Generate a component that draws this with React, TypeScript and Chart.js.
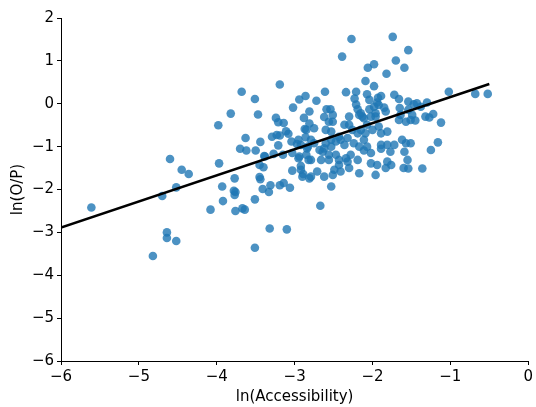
import React, { useEffect, useRef } from "react";
import { Chart, registerables } from "chart.js";

Chart.register(...registerables);

// ln(Accessibility) values of each observation
const accessX: number[] = [
  -5.61, -4.82, -4.70, -4.64, -4.64, -4.52, -4.60, -4.52, -4.45, -4.36,
  -3.98, -3.97, -3.93, -3.92, -4.08, -3.77, -3.78, -3.76, -3.77, -3.76,
  -3.67, -3.64, -3.51, -3.51, -3.32, -3.10, -3.45, -3.44, -3.41, -3.31,
  -3.33, -3.19, -3.14, -3.06, -3.03, -2.95, -2.92, -2.92, -2.89, -2.90,
  -3.45, -3.40, -3.39, -3.27, -2.82, -2.67, -3.19, -3.68, -3.51, -3.82,
  -3.47, -3.02, -2.94, -2.86, -3.24, -3.21, -3.14, -3.11, -3.08, -3.29,
  -3.23, -3.19, -3.63, -3.44, -3.70, -3.62, -3.50, -3.38, -3.21, -3.04,
  -2.95, -2.97, -2.87, -2.88, -2.81, -2.86, -2.84, -2.94, -3.03, -3.15,
  -2.27, -1.74, -2.39, -2.06, -1.98, -1.70, -1.59, -1.54, -1.82, -2.09,
  -1.98, -2.61, -2.34, -2.21, -2.72, -2.07, -2.04, -1.93, -1.89, -1.94,
  -2.23, -2.21, -1.72, -1.66, -1.54, -2.59, -2.54, -2.19, -2.15, -2.04,
  -1.98, -1.96, -1.85, -1.83, -1.65, -2.62, -2.30, -2.13, -2.02, -1.92,
  -2.51, -2.81, -2.75, -2.85, -2.56, -2.51, -2.60, -2.53, -2.36, -2.30,
  -2.26, -2.17, -2.11, -1.96, -2.15, -2.09, -2.00, -1.92, -1.89, -1.81,
  -1.66, -1.64, -1.57, -1.62, -1.57, -2.92, -2.83, -2.75, -2.68, -2.62,
  -2.53, -2.47, -2.41, -2.36, -2.79, -2.66, -2.56, -2.43, -2.32, -2.19,
  -2.24, -2.17, -2.07, -2.02, -1.89, -1.81, -1.77, -1.72, -2.02, -1.94,
  -1.83, -1.81, -2.71, -2.62, -2.51, -2.41, -2.30, -2.17, -2.81, -1.96,
  -2.53, -1.55, -1.60, -1.02, -0.68, -0.52, -1.47, -1.43, -1.30, -1.54,
  -1.49, -1.38, -1.32, -1.27, -1.22, -1.12, -1.51, -1.45, -1.51, -1.59,
  -1.16, -1.25, -1.54, -1.36, -2.19, -2.32, -2.11, -2.11, -2.79, -2.60,
  -2.53, -2.43, -2.85, -2.64, -2.56, -2.47, -2.34, -2.28, -2.79, -2.49,
  -2.43, -1.76, -2.07, -1.89,
];

// ln(O/P) values of each observation
const opY: number[] = [
  -2.42, -3.55, -2.15, -3.00, -3.13, -3.20, -1.29, -1.95, -1.54, -1.64,
  -0.50, -1.39, -1.93, -2.27, -2.47, -1.74, -2.03, -2.06, -2.13, -2.50,
  -2.44, -2.47, -2.23, -3.36, -2.91, -2.93, -1.71, -1.76, -1.99, -1.90,
  -2.06, -1.90, -1.85, -1.96, -1.56, -1.27, -1.45, -1.54, -1.64, -1.70,
  -1.43, -1.48, -1.22, -1.17, -1.31, -2.38, 0.45, 0.28, 0.11, -0.23,
  -0.25, -0.09, 0.10, 0.18, -0.33, -0.43, -0.45, -0.64, -0.70, -0.77,
  -0.73, -0.74, -0.80, -0.89, -1.05, -1.09, -1.09, -1.23, -0.97, -0.88,
  -0.84, -0.94, -0.59, -0.33, -0.18, -0.78, -1.04, -1.23, -1.15, -1.19,
  1.51, 1.56, 1.10, 0.84, 0.92, 1.01, 0.84, 1.25, 0.70, 0.53,
  0.41, 0.28, 0.27, 0.28, 0.07, 0.22, 0.09, 0.14, 0.18, 0.03,
  0.12, -0.02, 0.21, 0.11, 0.05, -0.13, -0.13, -0.13, -0.22, -0.13,
  -0.07, -0.22, -0.09, -0.18, -0.10, -0.31, -0.30, -0.30, -0.30, -0.03,
  -0.26, -0.46, -0.57, -0.61, -0.42, -0.42, -0.61, -0.65, -0.49, -0.49,
  -0.61, -0.26, -0.34, -0.30, -0.61, -0.69, -0.61, -0.53, -0.69, -0.65,
  -0.38, -0.26, -0.42, -0.84, -0.92, -0.96, -1.00, -0.92, -1.08, -1.04,
  -1.00, -0.88, -0.84, -0.96, -1.31, -1.31, -1.31, -1.31, -1.35, -1.31,
  -0.92, -1.00, -1.00, -1.15, -0.96, -0.96, -1.12, -0.96, -1.39, -1.43,
  -1.50, -1.35, -1.58, -1.70, -1.66, -1.58, -1.50, -1.62, -1.74, -1.66,
  -1.93, -1.31, -1.50, 0.28, 0.23, 0.23, -0.01, 0.01, 0.03, -0.14,
  -0.26, -0.07, -0.30, -0.32, -0.24, -0.44, -0.38, -0.39, -0.92, -1.12,
  -0.90, -1.08, -1.51, -1.51, -0.69, -0.80, -0.84, -1.09, -0.84, -0.92,
  -0.84, -0.77, -1.19, -1.12, -1.19, -1.19, -1.27, -1.19, -1.70, -1.54,
  -1.43, -1.43, -0.49, -1.05,
];

// Fitted regression line end points
const fitX: number[] = [-6, -0.5];
const fitY: number[] = [-2.89, 0.46];

// Axis ranges / ticks
const xTicks: number[] = [-6, -5, -4, -3, -2, -1, 0];
const yTicks: number[] = [-6, -5, -4, -3, -2, -1, 0, 1, 2];

const fmt = (v: number) => (v < 0 ? "\u2212" + Math.abs(v) : String(v));

export default function App() {
  const ref = useRef<HTMLCanvasElement | null>(null);

  useEffect(() => {
    if (!ref.current) return;
    const points = accessX.map((x, i) => ({ x, y: opY[i] }));
    const fit = fitX.map((x, i) => ({ x, y: fitY[i] }));
    const font = { family: "'DejaVu Sans', sans-serif", size: 15 };

    const chart = new Chart(ref.current, {
      type: "scatter",
      data: {
        datasets: [
          {
            type: "line",
            data: fit,
            borderColor: "#000000",
            borderWidth: 2.5,
            pointRadius: 0,
            showLine: true,
            fill: false,
            order: 0,
          } as any,
          {
            type: "scatter",
            data: points,
            backgroundColor: "rgba(31,119,180,0.8)",
            borderColor: "rgba(31,119,180,0.8)",
            borderWidth: 0,
            pointRadius: 4.3,
            pointHoverRadius: 4.3,
            order: 1,
          },
        ],
      },
      options: {
        responsive: false,
        animation: false,
        events: [],
        layout: { padding: { left: 0, right: 6, top: 18, bottom: 0 } },
        plugins: { legend: { display: false }, tooltip: { enabled: false } },
        scales: {
          x: {
            type: "linear",
            min: -6,
            max: 0,
            afterBuildTicks: (s: any) => {
              s.ticks = xTicks.map((v) => ({ value: v }));
            },
            afterFit: (s: any) => {
              s.height = 46;
            },
            ticks: {
              font,
              color: "#000000",
              padding: 3,
              maxRotation: 0,
              callback: (v: any) => fmt(Number(v)),
            },
            grid: {
              display: true,
              drawOnChartArea: false,
              drawTicks: true,
              tickLength: 4,
              tickColor: "#000000",
            },
            border: { display: true, color: "#000000", width: 1 },
            title: {
              display: true,
              text: "ln(Accessibility)",
              font,
              color: "#000000",
              padding: { top: 0, bottom: 1 },
            },
          },
          y: {
            type: "linear",
            min: -6,
            max: 2,
            afterBuildTicks: (s: any) => {
              s.ticks = yTicks.map((v) => ({ value: v }));
            },
            afterFit: (s: any) => {
              s.width = 61;
            },
            ticks: {
              font,
              color: "#000000",
              padding: 3,
              callback: (v: any) => fmt(Number(v)),
            },
            grid: {
              display: true,
              drawOnChartArea: false,
              drawTicks: true,
              tickLength: 4,
              tickColor: "#000000",
            },
            border: { display: true, color: "#000000", width: 1 },
            title: {
              display: true,
              text: "ln(O/P)",
              font,
              color: "#000000",
              padding: { top: 9, bottom: 0 },
            },
          },
        },
      },
    });
    return () => chart.destroy();
  }, []);

  return (
    <div style={{ position: "fixed", left: 0, top: 0, width: 536, height: 407, background: "#fff" }}>
      <canvas ref={ref} width={536} height={407} style={{ display: "block", width: 536, height: 407 }} />
    </div>
  );
}
